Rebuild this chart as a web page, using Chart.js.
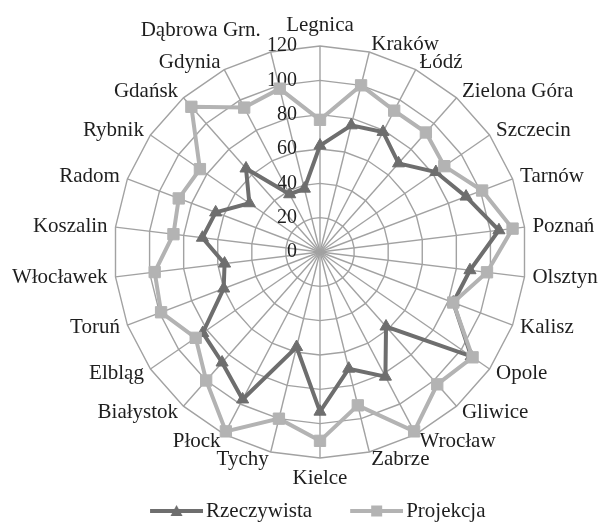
<!DOCTYPE html>
<html>
<head>
  <title>Radar</title>
  <style>
    body { margin: 0; background: #fff; }
    #wrap { width: 602px; height: 523px; }
  </style>
</head>
<body>
  <div id="wrap"><canvas id="myChart"></canvas></div>
  <script src="https://cdn.jsdelivr.net/npm/chart.js@4.4.1/dist/chart.umd.min.js"></script>

  <script>
    let cities = ['Legnica', 'Kraków', 'Łódź', 'Zielona Góra', 'Szczecin', 'Tarnów', 'Poznań',
      'Olsztyn', 'Kalisz', 'Opole', 'Gliwice', 'Wrocław', 'Zabrze', 'Kielce', 'Tychy', 'Płock',
      'Białystok', 'Elbląg', 'Toruń', 'Włocławek', 'Koszalin', 'Radom', 'Rybnik', 'Gdańsk',
      'Gdynia', 'Dąbrowa Grn.'];
    let actual = [62, 76, 79, 69, 82, 91, 105, 88, 83, 107, 58, 82, 70, 93, 57, 97,
      86, 83, 60, 56, 69, 65, 50, 65, 38, 38];
    let projected = [77, 100, 93, 93, 88, 101, 113, 98, 83, 108, 103, 118, 92, 110, 100, 118,
      100, 88, 99, 97, 86, 88, 85, 113, 95, 98];
    let tickValues = [0, 20, 40, 60, 80, 100, 120];
    let seriesNames = ['Rzeczywista', 'Projekcja'];

    let darkGray = '#6e6e6e';
    let lightGray = '#b3b3b3';
    let gridGray = '#a2a2a2';
    let textColor = '#1e1e1e';
    let font = 'Liberation Serif, Times New Roman, serif';

    // line + marker picture for the legend
    function legendIcon(color, shape) {
      let c = document.createElement('canvas');
      c.width = 56; c.height = 14;
      let g = c.getContext('2d');
      g.strokeStyle = color; g.lineWidth = 4;
      g.beginPath(); g.moveTo(3, 7); g.lineTo(56, 7); g.stroke();
      g.fillStyle = color;
      g.beginPath();
      if (shape === 'triangle') {
        g.moveTo(29.5, 1); g.lineTo(35.5, 12); g.lineTo(23.5, 12);
      } else {
        g.rect(24, 1.5, 11, 11);
      }
      g.closePath(); g.fill();
      return c;
    }
    let icons = [legendIcon(darkGray, 'triangle'), legendIcon(lightGray, 'rect')];

    // category labels Excel-style (side labels centred on the spoke end),
    // and tick labels left of the vertical axis
    let labelPlugin = {
      id: 'excelLabels',
      beforeDatasetsDraw(chart) {
        let scale = chart.scales.r;
        let ctx = chart.ctx;
        ctx.save();
        ctx.fillStyle = textColor;

        ctx.font = '20px ' + font;
        ctx.textAlign = 'right';
        ctx.textBaseline = 'middle';
        tickValues.forEach(v => {
          let d = scale.getDistanceFromCenterForValue(v);
          ctx.fillText(String(v), scale.xCenter - 23, scale.yCenter - d);
        });

        ctx.font = '21px ' + font;
        let half = 21 * 1.2 / 2;
        cities.forEach((name, i) => {
          let p = scale.getPointPosition(i, scale.drawingArea + 8);
          let deg = Math.round(scale.getIndexAngle(i) * 180 / Math.PI) % 360;
          let x = p.x, y = p.y;
          if (deg === 0) { ctx.textAlign = 'center'; y -= half; }
          else if (deg === 180) { ctx.textAlign = 'center'; y += half; }
          else ctx.textAlign = deg < 180 ? 'left' : 'right';
          if (i === cities.length - 1) { x -= 8; y -= 14; } // moved clear of the 120 tick, as in the original
          ctx.fillText(name, x, y);
        });
        ctx.restore();
      }
    };

    let ctx = document.getElementById('myChart').getContext('2d');
    let chart = new Chart(ctx, {
      type: 'radar',
      data: {
        labels: cities,
        datasets: [{
          label: seriesNames[0],
          data: actual,
          borderColor: darkGray,
          backgroundColor: darkGray,
          borderWidth: 4,
          fill: false,
          pointStyle: 'triangle',
          pointRadius: 7,
          pointBorderWidth: 1,
          pointBackgroundColor: darkGray,
          pointBorderColor: darkGray,
          order: 1
        }, {
          label: seriesNames[1],
          data: projected,
          borderColor: lightGray,
          backgroundColor: lightGray,
          borderWidth: 4,
          fill: false,
          pointStyle: 'rect',
          pointRadius: 8,
          pointBorderWidth: 1,
          pointBackgroundColor: lightGray,
          pointBorderColor: lightGray,
          order: 0
        }]
      },
      options: {
        responsive: true,
        maintainAspectRatio: false,
        animation: false,
        layout: { padding: { top: 46, bottom: -8.5, left: 38, right: 0 } },
        elements: { line: { tension: 0 } },
        scales: {
          r: {
            min: 0,
            max: 120,
            ticks: { stepSize: 20, display: false },
            grid: { color: gridGray, lineWidth: 1.4 },
            angleLines: { color: gridGray, lineWidth: 1.4 },
            pointLabels: { display: false }
          }
        },
        plugins: {
          tooltip: { enabled: false },
          legend: {
            position: 'bottom',
            labels: {
              usePointStyle: true,
              pointStyleWidth: 41,
              padding: 42.5,
              color: textColor,
              font: { family: font, size: 21 },
              sort: (a, b) => a.datasetIndex - b.datasetIndex,
              generateLabels(chart) {
                let items = Chart.defaults.plugins.legend.labels.generateLabels(chart);
                items.forEach(it => { it.pointStyle = icons[it.datasetIndex]; });
                return items;
              }
            }
          }
        }
      },
      plugins: [labelPlugin]
    });
  </script>
</body>
</html>
